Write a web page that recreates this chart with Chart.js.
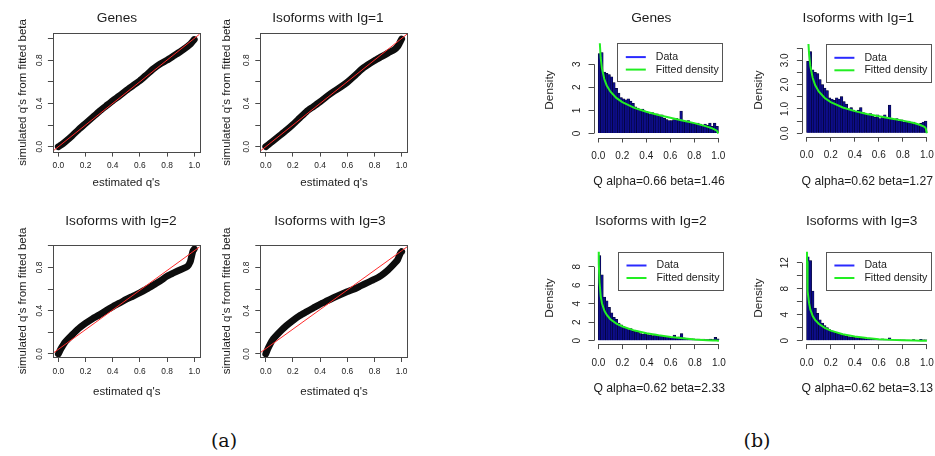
<!DOCTYPE html>
<html><head><meta charset="utf-8">
<script src="https://cdn.jsdelivr.net/npm/chart.js@4.4.0/dist/chart.umd.min.js"></script>
<style>
html,body{margin:0;padding:0;background:#fff;overflow:hidden;}
#wrap{position:relative;width:935px;height:456px;overflow:hidden;background:#fff;}
#wrap canvas{position:absolute;}
.cap{position:absolute;font-family:"DejaVu Serif","Liberation Serif",serif;font-size:19px;color:#111;transform:translate(-50%,-50%);white-space:nowrap;}
</style></head><body><div id="wrap">
<div class="cap" style="left:224px;top:440px;">(a)</div>
<div class="cap" style="left:757px;top:440px;">(b)</div>
</div>
<script>
// ---------- data ----------
const panelTitles = ['Genes', 'Isoforms with Ig=1', 'Isoforms with Ig=2', 'Isoforms with Ig=3'];
const histSubtitles = ['Q alpha=0.66 beta=1.46', 'Q alpha=0.62 beta=1.27', 'Q alpha=0.62 beta=2.33', 'Q alpha=0.62 beta=3.13'];
const qqXTitle = "estimated q's";
const qqYTitle = "simulated q's from fitted beta";
const histYTitle = 'Density';
const legendLabels = ['Data', 'Fitted density'];

const xTickVals = [0, 0.2, 0.4, 0.6, 0.8, 1.0];
const xTickLabels = ['0.0', '0.2', '0.4', '0.6', '0.8', '1.0'];
const qqYTickVals = [0, 0.2, 0.4, 0.6, 0.8, 1.0];
const qqYTickLabels = ['0.0', '', '0.4', '', '0.8', ''];
const yTicksGenes = [0, 1, 2, 3];
const yLabelsGenes = ['0', '1', '2', '3'];
const yTicksIg1 = [0, 0.5, 1, 1.5, 2, 2.5, 3, 3.5];
const yLabelsIg1 = ['0.0', '', '1.0', '', '2.0', '', '3.0', ''];
const yTicksIg2 = [0, 2, 4, 6, 8];
const yLabelsIg2 = ['0', '2', '4', '6', '8'];
const yTicksIg3 = [0, 2, 4, 6, 8, 10, 12];
const yLabelsIg3 = ['0', '', '4', '', '8', '', '12'];

// QQ plots: estimated q (x) vs simulated q (y)
const qqQ    = [0, 0.02, 0.05, 0.1, 0.15, 0.2, 0.25, 0.3, 0.35, 0.4, 0.45, 0.5, 0.55, 0.6, 0.65, 0.7, 0.75, 0.8, 0.85, 0.9, 0.95, 0.97, 0.98, 0.99, 1.0];
const qqGenes = [0, 0.015, 0.045, 0.1, 0.16, 0.215, 0.27, 0.325, 0.375, 0.425, 0.47, 0.52, 0.565, 0.61, 0.665, 0.72, 0.765, 0.8, 0.84, 0.88, 0.925, 0.945, 0.96, 0.975, 0.99];
const qqIg1   = [0, 0.02, 0.05, 0.1, 0.15, 0.205, 0.265, 0.325, 0.37, 0.415, 0.465, 0.51, 0.55, 0.595, 0.65, 0.71, 0.755, 0.795, 0.83, 0.865, 0.9, 0.925, 0.945, 0.97, 0.995];
const qqIg2   = [0, 0.05, 0.11, 0.175, 0.235, 0.283, 0.325, 0.36, 0.4, 0.437, 0.47, 0.505, 0.535, 0.566, 0.6, 0.637, 0.675, 0.72, 0.75, 0.78, 0.81, 0.85, 0.9, 0.95, 0.97];
const qqIg3   = [0, 0.06, 0.13, 0.2, 0.26, 0.31, 0.355, 0.39, 0.425, 0.46, 0.49, 0.52, 0.548, 0.575, 0.6, 0.63, 0.66, 0.69, 0.725, 0.775, 0.84, 0.87, 0.9, 0.93, 0.945];
// reference (red) lines: endpoints
const refX     = [-0.04, 1.04];
const refGenes = [-0.04, 1.04];
const refIg1   = [-0.04, 1.04];
const refIg2   = [0.006, 0.99];
const refIg3   = [0.012, 0.99];

// Histograms (bin width 0.02)
const binMid = [0.01,0.03,0.05,0.07,0.09,0.11,0.13,0.15,0.17,0.19,0.21,0.23,0.25,0.27,0.29,0.31,0.33,0.35,0.37,0.39,0.41,0.43,0.45,0.47,0.49,0.51,0.53,0.55,0.57,0.59,0.61,0.63,0.65,0.67,0.69,0.71,0.73,0.75,0.77,0.79,0.81,0.83,0.85,0.87,0.89,0.91,0.93,0.95,0.97,0.99];
const histGenes = [3.45,3.5,2.65,2.6,2.55,2.45,2.2,1.95,1.75,1.55, 1.5,1.45,1.5,1.4,1.3,1.15,1.1,1.0,1.05,0.95, 0.9,0.85,0.9,0.8,0.85,0.75,0.8,0.65,0.6,0.55, 0.55,0.6,0.65,0.6,0.97,0.55,0.5,0.55,0.45,0.45, 0.4,0.45,0.4,0.35,0.4,0.35,0.45,0.3,0.45,0.3];
const histIg1   = [2.95,3.35,2.6,2.5,2.45,2.2,2.0,1.85,1.75,1.45, 1.4,1.35,1.45,1.4,1.5,1.3,1.2,1.0,1.05,0.95, 0.9,0.95,1.05,0.85,0.8,0.75,0.8,0.7,0.65,0.75, 0.6,0.7,0.75,0.65,1.15,0.6,0.55,0.6,0.5,0.55, 0.45,0.45,0.5,0.4,0.45,0.4,0.35,0.4,0.45,0.5];
const histIg2   = [9.2,7.1,4.7,4.3,3.6,3.0,2.5,2.3,1.9,1.7, 1.5,1.35,1.2,1.3,1.0,1.1,0.9,0.75,0.7,0.8, 0.65,0.6,0.55,0.7,0.55,0.5,0.45,0.4,0.45,0.35, 0.35,0.6,0.35,0.4,0.75,0.3,0.25,0.25,0.2,0.2, 0.15,0.15,0.1,0.15,0.1,0.1,0.15,0.1,0.35,0.2];
const histIg3   = [12.9,12.3,7.6,5.0,4.2,3.2,2.7,2.3,2.0,1.7, 1.5,1.3,1.1,1.0,0.9,0.8,0.7,0.6,0.55,0.5, 0.45,0.4,0.35,0.35,0.3,0.3,0.25,0.25,0.2,0.2, 0.2,0.25,0.15,0.15,0.4,0.15,0.1,0.1,0.1,0.1, 0.1,0.08,0.08,0.05,0.15,0.05,0.05,0.2,0.1,0.1];

// Fitted density curves (green)
const densX     = [0.001,0.003,0.005,0.01,0.02,0.03,0.05,0.07,0.1,0.15,0.2,0.3,0.4,0.5,0.6,0.7,0.8,0.9,0.95,0.98,0.99,1.0];
const densGenes = [9.15,6.3,5.28,4.15,3.27,2.83,2.36,2.08,1.82,1.54,1.36,1.11,0.94,0.80,0.68,0.565,0.45,0.31,0.22,0.145,0.105,0];
const densIg1   = [10.2,6.69,5.5,4.22,3.24,2.77,2.27,1.98,1.72,1.45,1.28,1.06,0.91,0.79,0.70,0.61,0.52,0.41,0.33,0.26,0.21,0];
const densIg2   = [15.3,10.07,8.28,6.31,4.79,4.05,3.24,2.78,2.32,1.84,1.53,1.09,0.80,0.58,0.40,0.26,0.14,0.054,0.021,0.006,0.002,0];
const densIg3   = [18.6,12.23,10.04,7.62,5.73,4.81,3.79,3.19,2.60,1.97,1.55,1.0,0.65,0.40,0.23,0.12,0.05,0.01,0.002,0,0,0];

// ---------- drawing ----------
const FONT = '"Liberation Sans", Arial, Helvetica, sans-serif';
const TEXT = '#1c1c1c';
const LINE = '#4a4a4a';
const TICKLEN = 5;
const mctx = document.createElement('canvas').getContext('2d');
function textW(t, size) { mctx.font = size + 'px ' + FONT; return mctx.measureText(t).width; }
const pts = (xs, ys) => xs.map((x, i) => ({x: x, y: ys[i]}));

const decor = {
  id: 'decor',
  afterDraw(chart, args, o) {
    const P = o.P, ctx = chart.ctx, a = chart.chartArea;
    const ox = P.canvas.x, oy = P.canvas.y;
    ctx.save();
    ctx.strokeStyle = LINE; ctx.lineWidth = 1;
    if (P.kind === 'qq') {
      const l = Math.round(a.left) + 0.5, t = Math.round(a.top) + 0.5;
      ctx.strokeRect(l, t, Math.round(a.right) - Math.round(a.left), Math.round(a.bottom) - Math.round(a.top));
    } else {
      const xs = chart.scales.x, ys = chart.scales.y;
      const yb = Math.round(a.bottom) + 0.5, xl = Math.round(a.left) + 0.5;
      ctx.beginPath();
      ctx.moveTo(xs.getPixelForValue(P.xTicks[0]), yb);
      ctx.lineTo(xs.getPixelForValue(P.xTicks[P.xTicks.length - 1]), yb);
      ctx.moveTo(xl, ys.getPixelForValue(P.yTicks[0]));
      ctx.lineTo(xl, ys.getPixelForValue(P.yTicks[P.yTicks.length - 1]));
      ctx.stroke();
      // legend (top-right inside plot region)
      const lw = 105.7, lhgt = 38;
      const bx = a.right - lw, by = a.top;
      ctx.fillStyle = '#fff';
      ctx.strokeStyle = '#555';
      ctx.strokeRect(Math.round(bx) + 0.5, Math.round(by) + 0.5, Math.round(lw) - 1, Math.round(lhgt));
      const rows = [{c: '#2a2aff', t: legendLabels[0], dy: 13.8}, {c: '#22ee22', t: legendLabels[1], dy: 26.3}];
      ctx.font = '10.6px ' + FONT; ctx.textBaseline = 'middle'; ctx.textAlign = 'left';
      for (const r of rows) {
        ctx.strokeStyle = r.c; ctx.lineWidth = 2;
        ctx.beginPath(); ctx.moveTo(bx + 8.4, by + r.dy); ctx.lineTo(bx + 28.4, by + r.dy); ctx.stroke();
        ctx.fillStyle = TEXT; ctx.fillText(r.t, bx + 38.4, by + r.dy);
      }
    }
    ctx.fillStyle = TEXT; ctx.textBaseline = 'middle'; ctx.textAlign = 'center';
    for (const t of P.texts) {
      ctx.font = t.size + 'px ' + FONT;
      const x = t.x - ox, y = t.y - oy;
      if (t.rot) { ctx.save(); ctx.translate(x, y); ctx.rotate(-Math.PI / 2); ctx.fillText(t.text, 0, 0); ctx.restore(); }
      else ctx.fillText(t.text, x, y);
    }
    ctx.restore();
  }
};

function build(P) {
  const cv = document.createElement('canvas');
  cv.width = P.canvas.w; cv.height = P.canvas.h;
  cv.style.left = P.canvas.x + 'px'; cv.style.top = P.canvas.y + 'px';
  cv.style.width = P.canvas.w + 'px'; cv.style.height = P.canvas.h + 'px';
  document.getElementById('wrap').appendChild(cv);
  const L = P.area.l - P.canvas.x, R = P.area.r - P.canvas.x;
  const T = P.area.t - P.canvas.y, B = P.area.b - P.canvas.y;
  const widest = Math.max(...P.yLabels.map(t => textW(t, P.tickSize)));
  const xPad = P.xLabOff - TICKLEN - P.tickSize * 0.6;
  const yPad = P.yLabOff - TICKLEN - widest / 2;
  const tickFont = {family: FONT, size: P.tickSize};
  const grid = {display: true, drawOnChartArea: false, drawTicks: true, tickLength: TICKLEN, color: LINE, lineWidth: 1, offset: false};
  new Chart(cv, {
    type: P.kind === 'qq' ? 'line' : 'bar',
    data: {datasets: P.datasets},
    options: {
      responsive: false, animation: false, devicePixelRatio: 1,
      layout: {padding: {left: 0, top: T, right: P.canvas.w - R, bottom: 0}},
      plugins: {legend: {display: false}, tooltip: {enabled: false}, title: {display: false}, decor: {P: P}},
      scales: {
        x: {
          type: 'linear', min: P.xRange[0], max: P.xRange[1], offset: false, bounds: 'data',
          afterFit: s => { s.height = P.canvas.h - B; s.paddingLeft = 0; s.paddingRight = 0; s.paddingTop = 0; s.paddingBottom = 0; },
          afterBuildTicks: s => { s.ticks = P.xTicks.map(v => ({value: v})); },
          ticks: {callback: (v, i) => P.xLabels[i], font: tickFont, color: TEXT, padding: xPad, minRotation: 0, maxRotation: 0, autoSkip: false},
          grid: grid, border: {display: false}
        },
        y: {
          type: 'linear', min: P.yRange[0], max: P.yRange[1], bounds: 'data',
          afterFit: s => { s.width = L; s.paddingLeft = 0; s.paddingRight = 0; s.paddingTop = 0; s.paddingBottom = 0; },
          afterBuildTicks: s => { s.ticks = P.yTicks.map(v => ({value: v})); },
          ticks: {callback: (v, i) => P.yLabels[i], font: tickFont, color: TEXT, padding: yPad, minRotation: 90, maxRotation: 90, crossAlign: 'center', autoSkip: false},
          grid: grid, border: {display: false}
        }
      }
    },
    plugins: [decor]
  });
}

function qqSets(ys, ref) {
  return [
    {data: pts(refX, ref), borderColor: '#ff2b2b', borderWidth: 1, pointRadius: 0, tension: 0, order: 0},
    {data: pts(qqQ, ys), borderColor: '#0d0d0d', borderWidth: 6.8, pointRadius: 0, tension: 0.2, borderCapStyle: 'round', borderJoinStyle: 'round', order: 1}
  ];
}
function histSets(h, d) {
  return [
    {type: 'line', data: pts(densX, d), borderColor: '#22ee22', borderWidth: 2, pointRadius: 0, tension: 0, order: 0},
    {type: 'bar', data: pts(binMid, h), backgroundColor: '#0d0d88', borderColor: '#000018', borderWidth: 0.5, inflateAmount: 0.45, barPercentage: 1, categoryPercentage: 1, order: 1}
  ];
}

const qqBase = {kind: 'qq', xRange: [-0.04, 1.04], xTicks: xTickVals, xLabels: xTickLabels, yTicks: qqYTickVals, yLabels: qqYTickLabels, tickSize: 8.4, xLabOff: 14.5, yLabOff: 13.5};
const hiBase = {kind: 'hist', xRange: [-0.04, 1.04], xTicks: xTickVals, xLabels: xTickLabels, tickSize: 10, xLabOff: 18.8, yLabOff: 16.5};

const panels = [
  Object.assign({}, qqBase, {canvas: {x: 0, y: 0, w: 212, h: 200}, area: {l: 52.9, r: 199.7, t: 33.2, b: 151.6}, yRange: [-0.045, 1.048],
    datasets: qqSets(qqGenes, refGenes),
    texts: [{text: panelTitles[0], x: 117, y: 18, size: 13.7}, {text: qqXTitle, x: 126.3, y: 183, size: 11.5}, {text: qqYTitle, x: 23.3, y: 92.4, size: 11.5, rot: true}]}),
  Object.assign({}, qqBase, {canvas: {x: 212, y: 0, w: 220, h: 200}, area: {l: 260.3, r: 407.1, t: 33.2, b: 151.6}, yRange: [-0.045, 1.048],
    datasets: qqSets(qqIg1, refIg1),
    texts: [{text: panelTitles[1], x: 328, y: 18, size: 13.7}, {text: qqXTitle, x: 334, y: 183, size: 11.5}, {text: qqYTitle, x: 226.5, y: 92.4, size: 11.5, rot: true}]}),
  Object.assign({}, qqBase, {canvas: {x: 0, y: 200, w: 212, h: 212}, area: {l: 52.9, r: 199.7, t: 245.1, b: 357}, yRange: [-0.028, 1.006],
    datasets: qqSets(qqIg2, refIg2),
    texts: [{text: panelTitles[2], x: 121, y: 221.7, size: 13.7}, {text: qqXTitle, x: 126.7, y: 391.7, size: 11.5}, {text: qqYTitle, x: 23.3, y: 301, size: 11.5, rot: true}]}),
  Object.assign({}, qqBase, {canvas: {x: 212, y: 200, w: 220, h: 212}, area: {l: 260.3, r: 407.1, t: 245.1, b: 357}, yRange: [-0.028, 1.006],
    datasets: qqSets(qqIg3, refIg3),
    texts: [{text: panelTitles[3], x: 330, y: 221.7, size: 13.7}, {text: qqXTitle, x: 334, y: 391.7, size: 11.5}, {text: qqYTitle, x: 226.5, y: 301, size: 11.5, rot: true}]}),
  Object.assign({}, hiBase, {canvas: {x: 530, y: 0, w: 205, h: 200}, area: {l: 593.5, r: 723.1, t: 43.3, b: 137.5}, yRange: [-0.173, 3.905],
    yTicks: yTicksGenes, yLabels: yLabelsGenes, datasets: histSets(histGenes, densGenes),
    texts: [{text: panelTitles[0], x: 651.3, y: 18.3, size: 13.7}, {text: histSubtitles[0], x: 659, y: 181.7, size: 12.2}, {text: histYTitle, x: 550, y: 90, size: 11.8, rot: true}]}),
  Object.assign({}, hiBase, {canvas: {x: 740, y: 0, w: 215, h: 200}, area: {l: 801.9, r: 931.7, t: 44, b: 136.7}, yRange: [-0.141, 3.67],
    yTicks: yTicksIg1, yLabels: yLabelsIg1, datasets: histSets(histIg1, densIg1),
    texts: [{text: panelTitles[1], x: 858.3, y: 18.3, size: 13.7}, {text: histSubtitles[1], x: 867.3, y: 181.7, size: 12.2}, {text: histYTitle, x: 758.3, y: 90, size: 11.8, rot: true}]}),
  Object.assign({}, hiBase, {canvas: {x: 530, y: 200, w: 205, h: 212}, area: {l: 593.5, r: 723.8, t: 251.7, b: 344.1}, yRange: [-0.37, 9.62],
    yTicks: yTicksIg2, yLabels: yLabelsIg2, datasets: histSets(histIg2, densIg2),
    texts: [{text: panelTitles[2], x: 650.8, y: 221.7, size: 13.7}, {text: histSubtitles[2], x: 659.2, y: 388.3, size: 12.2}, {text: histYTitle, x: 550, y: 298, size: 11.8, rot: true}]}),
  Object.assign({}, hiBase, {canvas: {x: 740, y: 200, w: 215, h: 212}, area: {l: 801.9, r: 931.7, t: 251.7, b: 344.1}, yRange: [-0.53, 13.69],
    yTicks: yTicksIg3, yLabels: yLabelsIg3, datasets: histSets(histIg3, densIg3),
    texts: [{text: panelTitles[3], x: 861.7, y: 221.7, size: 13.7}, {text: histSubtitles[3], x: 867.3, y: 388.3, size: 12.2}, {text: histYTitle, x: 758.3, y: 298, size: 11.8, rot: true}]})
];
panels.forEach(build);
</script>
</body></html>
